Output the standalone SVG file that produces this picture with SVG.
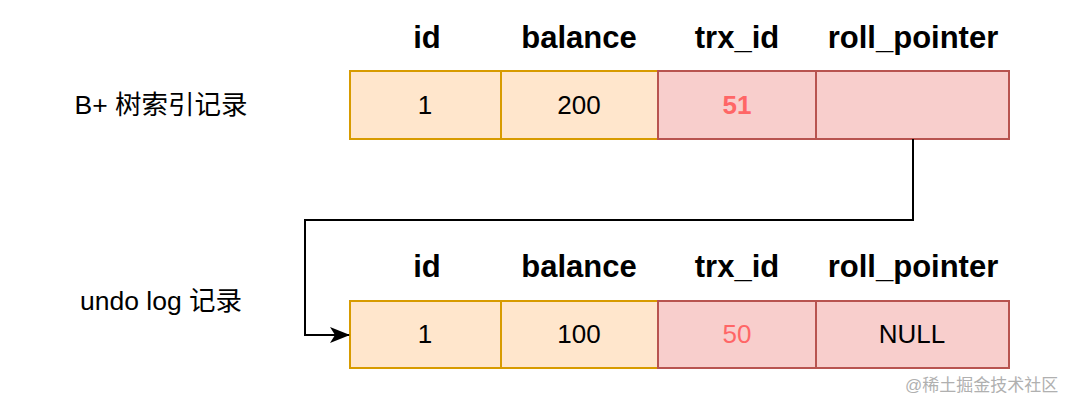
<svg xmlns="http://www.w3.org/2000/svg" width="1072" height="402" viewBox="0 0 1072 402">
<style>
text{font-family:"Liberation Sans","Noto Sans CJK SC",Arial,sans-serif;text-anchor:middle;fill:#000}
.hd{font-size:31px;font-weight:bold}
.cv{font-size:26px}
.lb{font-size:26.5px}
.o{fill:#ffe6cc;stroke:#d79b00;stroke-width:2}
.r{fill:#f8cecc;stroke:#b85450;stroke-width:2}
.red{fill:#ff6666}
.wm{font-size:17px;fill:#b0b0b0;text-anchor:start}
</style>
<defs>
<marker id="ah" markerWidth="20" markerHeight="18" refX="19" refY="9" orient="auto" markerUnits="userSpaceOnUse">
<path d="M0,1 L20,9 L0,17 L5,9 Z" fill="#000"/>
</marker>
</defs>
<rect width="1072" height="402" fill="#fff"/>
<g id="label-bplus"><text class="lb" x="161" y="114">B+ 树索引记录</text></g>
<g id="label-undo"><text class="lb" x="161" y="310">undo log 记录</text></g>
<g id="headers-top">
<text class="hd" x="427" y="48">id</text>
<text class="hd" x="579" y="48">balance</text>
<text class="hd" x="737" y="48">trx_id</text>
<text class="hd" x="913" y="48">roll_pointer</text>
</g>
<g id="record-top">
<rect class="o" x="350" y="71" width="151" height="68"/>
<rect class="o" x="501" y="71" width="157" height="68"/>
<rect class="r" x="658" y="71" width="158" height="68"/>
<rect class="r" x="816" y="71" width="193" height="68"/>
<text class="cv" x="425" y="114">1</text>
<text class="cv" x="579" y="114">200</text>
<text class="cv red" x="737" y="114" font-weight="bold">51</text>
</g>
<g id="headers-bottom">
<text class="hd" x="427" y="277">id</text>
<text class="hd" x="579" y="277">balance</text>
<text class="hd" x="737" y="277">trx_id</text>
<text class="hd" x="913" y="277">roll_pointer</text>
</g>
<g id="record-bottom">
<rect class="o" x="350" y="301" width="151" height="67"/>
<rect class="o" x="501" y="301" width="157" height="67"/>
<rect class="r" x="658" y="301" width="158" height="67"/>
<rect class="r" x="816" y="301" width="193" height="67"/>
<text class="cv" x="425" y="343">1</text>
<text class="cv" x="579" y="343">100</text>
<text class="cv red" x="737" y="343">50</text>
<text class="cv" x="912" y="343">NULL</text>
</g>
<g id="connectors">
<path d="M913,139 V220 H305 V335 H349" fill="none" stroke="#000" stroke-width="2" marker-end="url(#ah)"/>
</g>
<text class="wm" x="905" y="391">@稀土掘金技术社区</text>
</svg>
